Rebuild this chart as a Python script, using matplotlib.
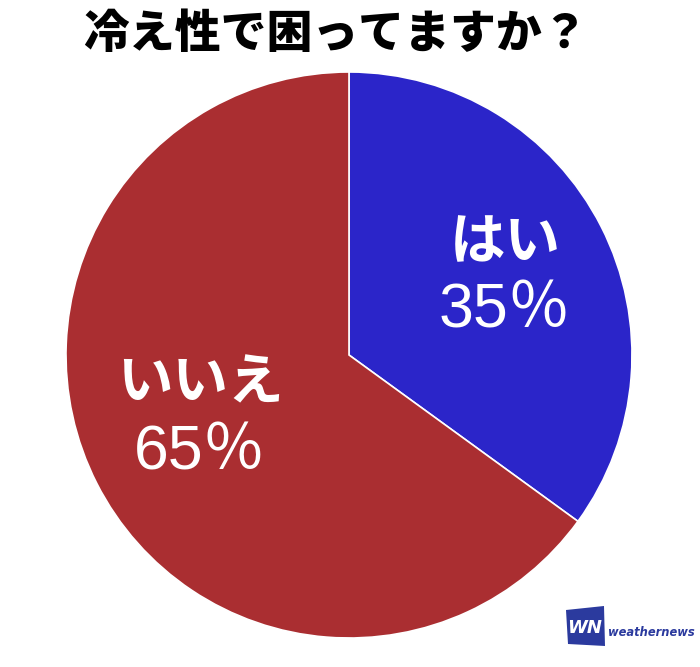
import matplotlib
matplotlib.use("Agg")
import matplotlib.pyplot as plt
from matplotlib.patches import Polygon

plt.rcParams['font.family'] = ['Noto Sans CJK JP', 'DejaVu Sans']

title = "冷え性で困ってますか？"
labels = ["はい", "いいえ"]
values = [35, 65]
colors = ["#2B25C9", "#AA2E31"]

W, H = 700, 667
fig = plt.figure(figsize=(W/100, H/100), dpi=100)
fig.patch.set_facecolor("white")

cx, cy, r = 349, 355, 283
ax = fig.add_axes([(cx - r)/W, (H - cy - r)/H, 2*r/W, 2*r/H])
ax.set_xlim(-1, 1)
ax.set_ylim(-1, 1)
ax.set_aspect("equal")
ax.axis("off")

ax.pie(values, colors=colors, startangle=90, counterclock=False, radius=1,
       wedgeprops=dict(edgecolor="white", linewidth=1.2))
ax.set_xlim(-1, 1)
ax.set_ylim(-1, 1)

def to_data(px, py):
    return (px - cx)/r, (cy - py)/r

pos = [((505, 243), (505, 311)), ((200, 383), (200, 453))]
for lab, val, (p1, p2) in zip(labels, values, pos):
    x1, y1 = to_data(*p1)
    x2, y2 = to_data(*p2)
    ax.text(x1, y1, lab, color="white", fontsize=40, fontweight="bold",
            ha="center", va="center")
    ax.text(x2, y2, f"{val}％", color="white", fontsize=45,
            ha="center", va="center",
            family=['Liberation Sans', 'Noto Sans CJK JP', 'DejaVu Sans'])

fig.text(335/W, 1 - 35/H, title, fontsize=33, fontweight="heavy",
         ha="center", va="center", color="black")

# logo
logo = Polygon([[566/W, 1-610/H], [604/W, 1-606/H], [605/W, 1-646/H], [568/W, 1-644/H]],
               closed=True, transform=fig.transFigure, facecolor="#2B3A9E", edgecolor="none")
fig.patches.append(logo)
fig.text(585/W, 1-628/H, "WN", color="white", fontsize=13, fontweight="bold",
         style="italic", ha="center", va="center", family="DejaVu Sans")
fig.text(608/W, 1-633/H, "weathernews", color="#2B3A9E", fontsize=8.3, fontweight="bold",
         style="italic", ha="left", va="center", family="DejaVu Sans")

fig.savefig("out.png", dpi=100, facecolor="white")
